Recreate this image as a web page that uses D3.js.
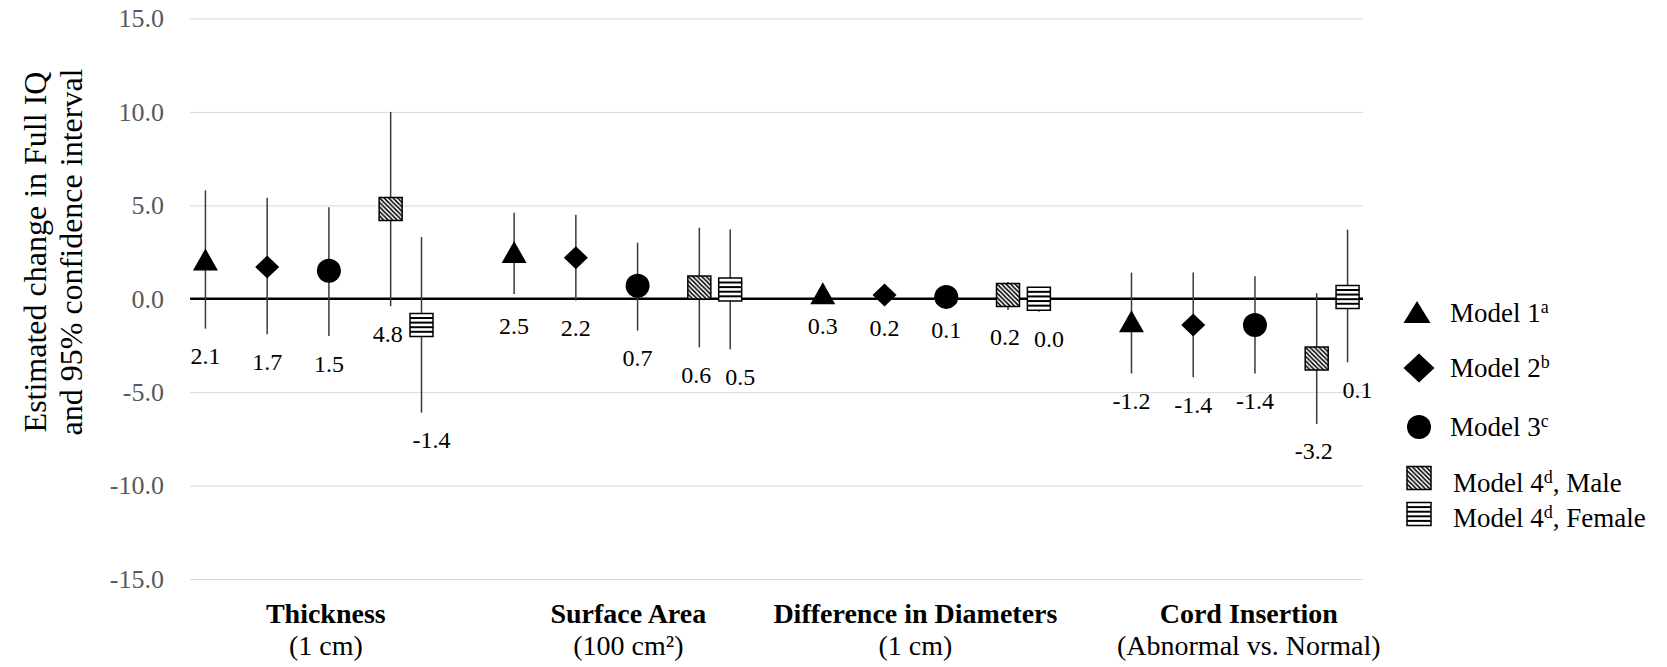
<!DOCTYPE html>
<html>
<head>
<meta charset="utf-8">
<script src="https://cdn.jsdelivr.net/npm/d3@7"></script>
<style>
  body { margin: 0; background: #fff; }
  svg { display: block; font-family: "Liberation Serif", "Times New Roman", serif; }
</style>
</head>
<body>
<div id="chart"></div>
<script>
// categories along the x axis
var categories = ["Thickness", "Surface Area", "Difference in Diameters", "Cord Insertion"];
var categoryUnits = ["(1 cm)", "(100 cm\u00B2)", "(1 cm)", "(Abnormal vs. Normal)"];

// series (models)
var seriesNames = ["Model 1", "Model 2", "Model 3", "Model 4", "Model 4"];
var seriesSup = ["a", "b", "c", "d", "d"];
var seriesSuffix = ["", "", "", ", Male", ", Female"];
var seriesShape = ["triangle", "diamond", "circle", "male", "female"];

// estimates, one row per series, one value per category
var estimates = [
  [2.1, 2.5, 0.3, -1.2],
  [1.7, 2.2, 0.2, -1.4],
  [1.5, 0.7, 0.1, -1.4],
  [4.8, 0.6, 0.2, -3.2],
  [-1.4, 0.5, 0.0, 0.1]
];
// 95% confidence interval, lower and upper bounds
var lower = [
  [-1.6, 0.25, 0.0, -4.0],
  [-1.9, -0.1, -0.1, -4.2],
  [-2.0, -1.7, -0.2, -4.0],
  [-0.4, -2.6, -0.6, -6.7],
  [-6.1, -2.7, -0.7, -3.4]
];
var upper = [
  [5.8, 4.6, 0.6, 1.4],
  [5.4, 4.5, 0.5, 1.4],
  [4.9, 3.0, 0.4, 1.2],
  [10.0, 3.8, 0.9, 0.3],
  [3.3, 3.7, 0.6, 3.7]
];

var yTicks = [-15, -10, -5, 0, 5, 10, 15];

// layout
var W = 1667, H = 667;
var plotLeft = 190, plotRight = 1363, plotTop = 18.5, plotBottom = 579;
var groupWidth = 5;                                 // x units per category
var seriesOffset = [0.25, 1.25, 2.25, 3.25, 3.75];  // x units within a category
var labelShift = [0, 0, 0, -3, 10];                 // px, keeps the two model 4 labels apart
var categoryLabelPos = [2.2, 7.1, 11.75, 17.15];

var svg = d3.select("#chart")
  .append("svg")
  .attr("width", W)
  .attr("height", H);

svg.append("rect").attr("width", W).attr("height", H).attr("fill", "#fff");

var defs = svg.append("defs");
var diag = defs.append("pattern")
  .attr("id", "diag")
  .attr("patternUnits", "userSpaceOnUse")
  .attr("width", 4.5)
  .attr("height", 4.5);
diag.append("rect").attr("width", 4.5).attr("height", 4.5).attr("fill", "#fff");
diag.append("path")
  .attr("d", "M0,0L4.5,4.5M-1,3.5L1,5.5M3.5,-1L5.5,1")
  .attr("stroke", "#000")
  .attr("stroke-width", 1.5);

var x = d3.scaleLinear()
  .domain([0, 19])
  .range([plotLeft, plotRight]);

var y = d3.scaleLinear()
  .domain([-15, 15])
  .range([plotBottom, plotTop]);

// gridlines
svg.append("g")
  .attr("transform", "translate(" + plotLeft + ",0)")
  .call(d3.axisLeft(y).tickValues(yTicks).tickSize(-(plotRight - plotLeft)).tickFormat(""))
  .call(function (g) { g.select(".domain").remove(); })
  .selectAll("line")
  .attr("stroke", "#d9d9d9")
  .attr("stroke-width", 1);

// y tick labels
svg.append("g")
  .attr("transform", "translate(" + plotLeft + ",0)")
  .call(d3.axisLeft(y).tickValues(yTicks).tickSize(0).tickPadding(26).tickFormat(d3.format(".1f")))
  .call(function (g) { g.select(".domain").remove(); })
  .selectAll("text")
  .attr("font-family", "Liberation Serif")
  .attr("font-size", 26)
  .attr("fill", "#595959")
  .text(function (d) { return d3.format(".1f")(d).replace("\u2212", "-"); });

// zero line
svg.append("line")
  .attr("x1", plotLeft)
  .attr("x2", plotRight)
  .attr("y1", y(0))
  .attr("y2", y(0))
  .attr("stroke", "#000")
  .attr("stroke-width", 2.5);

// y title
var yTitle = svg.append("text")
  .attr("transform", "translate(0," + 252 + ") rotate(-90)")
  .attr("text-anchor", "middle")
  .attr("font-size", 32)
  .attr("fill", "#000");
yTitle.append("tspan").attr("x", 0).attr("y", 46).text("Estimated change in Full IQ");
yTitle.append("tspan").attr("x", 0).attr("y", 82).text("and 95% confidence interval");

// flatten data
var points = [];
seriesNames.forEach(function (s, si) {
  categories.forEach(function (c, ci) {
    points.push({
      series: si,
      cat: ci,
      est: estimates[si][ci],
      lo: lower[si][ci],
      hi: upper[si][ci],
      pos: ci * groupWidth + seriesOffset[si]
    });
  });
});

function markerPath(type, w, h) {
  if (type === "triangle") return "M0," + (-h / 2) + "L" + (w / 2) + "," + (h / 2) + "L" + (-w / 2) + "," + (h / 2) + "Z";
  if (type === "diamond") return "M0," + (-h / 2) + "L" + (w / 2) + ",0L0," + (h / 2) + "L" + (-w / 2) + ",0Z";
  if (type === "circle") {
    var p = d3.path();
    p.arc(0, 0, w / 2, 0, Math.PI * 2);
    p.closePath();
    return p.toString();
  }
  return "M" + (-w / 2) + "," + (-h / 2) + "h" + w + "v" + h + "h" + (-w) + "Z";
}

var markerSize = {
  triangle: [25, 22],
  diamond: [24, 23],
  circle: [24, 24],
  male: [23, 23],
  female: [23, 23]
};

function drawMarker(g, type, size) {
  var w = size[0], h = size[1];
  if (type === "male") {
    g.append("path").attr("d", markerPath(type, w, h))
      .attr("fill", "url(#diag)").attr("stroke", "#000").attr("stroke-width", 1.5);
  } else if (type === "female") {
    g.append("path").attr("d", markerPath(type, w, h))
      .attr("fill", "#fff");
    d3.range(1, 5).forEach(function (i) {
      g.append("line")
        .attr("x1", -w / 2).attr("x2", w / 2)
        .attr("y1", -h / 2 + i * h / 5).attr("y2", -h / 2 + i * h / 5)
        .attr("stroke", "#000").attr("stroke-width", 2);
    });
    g.append("path").attr("d", markerPath(type, w, h))
      .attr("fill", "none").attr("stroke", "#000").attr("stroke-width", 1.5);
  } else {
    g.append("path").attr("d", markerPath(type, w, h)).attr("fill", "#000");
  }
}

// error bars
svg.append("g")
  .selectAll("line")
  .data(points)
  .enter()
  .append("line")
  .attr("x1", function (d) { return x(d.pos); })
  .attr("x2", function (d) { return x(d.pos); })
  .attr("y1", function (d) { return y(d.lo); })
  .attr("y2", function (d) { return y(d.hi); })
  .attr("stroke", "#3a3a3a")
  .attr("stroke-width", 1.5);

// markers
svg.append("g")
  .selectAll("g")
  .data(points)
  .enter()
  .append("g")
  .attr("transform", function (d) { return "translate(" + x(d.pos) + "," + y(d.est) + ")"; })
  .each(function (d) {
    var t = seriesShape[d.series];
    drawMarker(d3.select(this), t, markerSize[t]);
  });

// value labels below the lower whisker
svg.append("g")
  .selectAll("text")
  .data(points)
  .enter()
  .append("text")
  .attr("x", function (d) { return x(d.pos) + labelShift[d.series]; })
  .attr("y", function (d) { return Math.max(y(d.lo), y(0)) + 27; })
  .attr("dy", "0.35em")
  .attr("text-anchor", "middle")
  .attr("font-size", 24)
  .attr("fill", "#000")
  .text(function (d) { return d3.format(".1f")(d.est).replace("\u2212", "-"); });

// category labels
var catG = svg.append("g")
  .selectAll("g")
  .data(categories)
  .enter()
  .append("g")
  .attr("transform", function (d, i) { return "translate(" + x(categoryLabelPos[i]) + ",0)"; });
catG.append("text")
  .attr("y", 623)
  .attr("text-anchor", "middle")
  .attr("font-size", 28)
  .attr("font-weight", "bold")
  .text(function (d) { return d; });
catG.append("text")
  .attr("y", 655)
  .attr("text-anchor", "middle")
  .attr("font-size", 28)
  .text(function (d, i) { return categoryUnits[i]; });

// legend
var legendY = [312, 368, 427, 478, 514];
var legendTextY = [322, 377, 436, 492, 527];
var legendMarkerX = [1417, 1419, 1419, 1419, 1419];
var legendTextX = [1450, 1450, 1450, 1453, 1453];
var legendSize = {
  triangle: [27, 22],
  diamond: [31, 29],
  circle: [24, 24],
  male: [24, 23],
  female: [24, 23]
};

var leg = svg.append("g")
  .selectAll("g")
  .data(seriesNames)
  .enter()
  .append("g");

leg.append("g")
  .attr("transform", function (d, i) { return "translate(" + legendMarkerX[i] + "," + legendY[i] + ")"; })
  .each(function (d, i) {
    var t = seriesShape[i];
    drawMarker(d3.select(this), t, legendSize[t]);
  });

var legText = leg.append("text")
  .attr("x", function (d, i) { return legendTextX[i]; })
  .attr("y", function (d, i) { return legendTextY[i]; })
  .attr("font-size", 27)
  .attr("fill", "#000");
legText.append("tspan").text(function (d) { return d; });
legText.append("tspan")
  .attr("dy", -9)
  .attr("font-size", 18)
  .text(function (d, i) { return seriesSup[i]; });
legText.append("tspan")
  .attr("dy", 9)
  .text(function (d, i) { return seriesSuffix[i]; });
</script>
</body>
</html>
